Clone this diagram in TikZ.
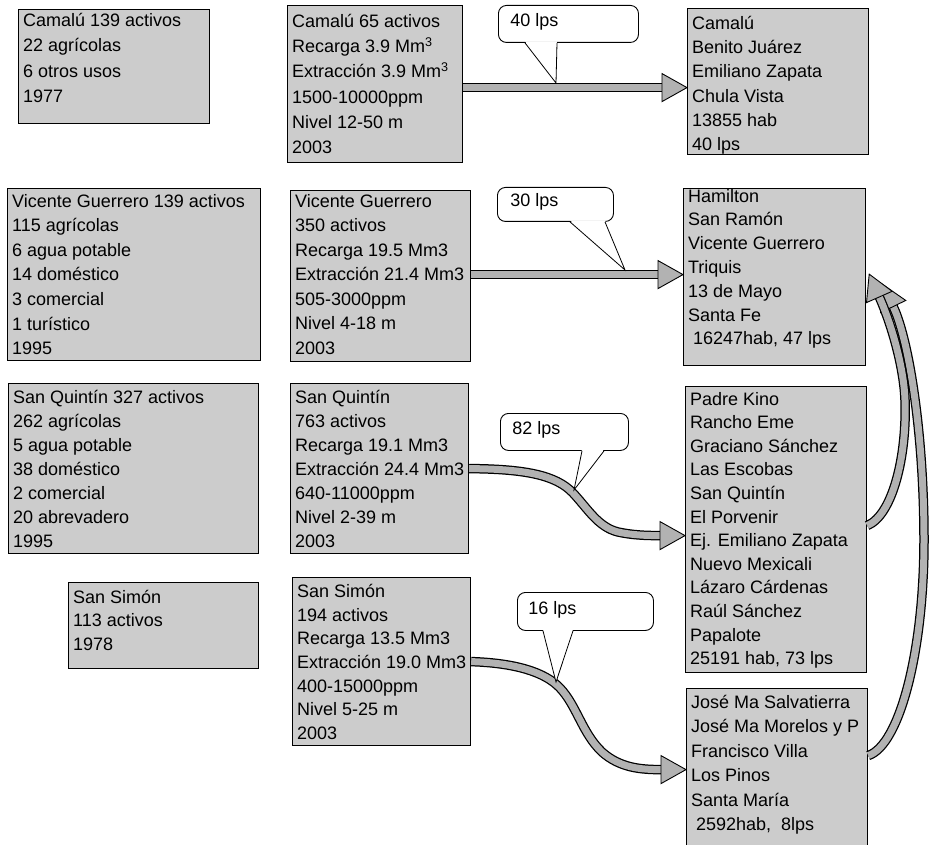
\documentclass[tikz,border=0pt]{standalone}
\usepackage{fontspec}
\setmainfont{Liberation Sans}
\usetikzlibrary{calc}
\definecolor{boxgray}{gray}{0.80}
\definecolor{arrgray}{gray}{0.70}
\tikzset{
  gbox/.style={draw=black, line width=1.2pt, fill=boxgray, inner sep=0pt, anchor=north west},
  callbox/.style={draw=black, line width=0.9pt, fill=white, rounded corners=8pt, inner sep=0pt, anchor=north west},
  shaft/.style={draw=arrgray, line width=7pt, preaction={draw=black, line width=9.5pt}},
  headst/.style={draw=black, fill=arrgray, line width=0.9pt, line join=miter},
  ptr/.style={draw=black, line width=0.8pt},
}
\newcommand{\gbox}[8]{%
  \node[gbox] (#1) at (#2,#3) {\parbox[c][#5pt][t]{#4pt}{\fontsize{18}{#7pt}\selectfont\raggedright\leftskip=4.5pt\vspace*{#6pt}\rule{0pt}{13pt}#8}};}
\newcommand{\gcall}[8]{%
  \node[callbox] (#1) at (#2,#3) {\parbox[c][#5pt][t]{#4pt}{\fontsize{18}{22pt}\selectfont\vspace*{#6pt}\hspace*{#7pt}\rule{0pt}{13pt}#8}};}
\newcommand{\bhead}[2]{\filldraw[headst] ($(#1)!14pt!90:(#2)$) -- (#2) -- ($(#1)!14pt!-90:(#2)$) -- cycle;}
\newcommand{\pointer}[4]{%
  \fill[white] ($(#1.south west)+(#2,-1.6)$) -- (#4) -- ($(#1.south west)+(#3,-1.6)$) -- cycle;
  \draw[ptr] ($(#1.south west)+(#2,0)$) -- (#4) -- ($(#1.south west)+(#3,0)$);}
\begin{document}
\begin{tikzpicture}[x=1pt,y=-1pt]
\useasboundingbox (0,0) rectangle (929,845);
% column A
\gbox{a1}{18}{9}{191}{114}{3.5}{25.5}{Camalú 139 activos\\22 agrícolas\\6 otros usos\\1977}
\gbox{a2}{7}{188}{253}{172}{5.5}{24.6}{Vicente Guerrero 139 activos\\115 agrícolas\\6 agua potable\\14 doméstico\\3 comercial\\1 turístico\\1995}
\gbox{a3}{8}{383}{250}{170}{6.5}{24}{San Quintín 327 activos\\262 agrícolas\\5 agua potable\\38 doméstico\\2 comercial\\20 abrevadero\\1995}
\gbox{a4}{68}{582}{190}{86}{7.5}{23.5}{San Simón\\113 activos\\1978}
% column B
\gbox{b1}{287}{5}{175}{157}{8.5}{25.3}{Camalú 65 activos\\Recarga 3.9 Mm\textsuperscript{3}\\Extracción 3.9 Mm\textsuperscript{3}\\1500-10000ppm\\Nivel 12-50 m\\2003}
\gbox{b2}{290}{190}{180}{171}{3.5}{24.5}{Vicente Guerrero\\350 activos\\Recarga 19.5 Mm3\\Extracción 21.4 Mm3\\505-3000ppm\\Nivel 4-18 m\\2003}
\gbox{b3}{290}{383}{178}{170}{6.5}{24}{San Quintín\\763 activos\\Recarga 19.1 Mm3\\Extracción 24.4 Mm3\\640-11000ppm\\Nivel 2-39 m\\2003}
\gbox{b4}{292}{577}{178}{168}{6.5}{23.7}{San Simón\\194 activos\\Recarga 13.5 Mm3\\Extracción 19.0 Mm3\\400-15000ppm\\Nivel 5-25 m\\2003}
% column C
\gbox{c1}{687}{8}{181}{146}{7.5}{24.3}{Camalú\\Benito Juárez\\Emiliano Zapata\\Chula Vista\\13855 hab\\40 lps}
\gbox{c2}{683}{188}{182}{177}{0.5}{23.8}{Hamilton\\San Ramón\\Vicente Guerrero\\Triquis\\13 de Mayo\\Santa Fe\\\hspace*{5pt}16247hab, 47 lps}
\gbox{c3}{685}{386}{181}{286}{5.5}{23.6}{Padre Kino\\Rancho Eme\\Graciano Sánchez\\Las Escobas\\San Quintín\\El Porvenir\\Ej. Emiliano Zapata\\Nuevo Mexicali\\Lázaro Cárdenas\\Raúl Sánchez\\Papalote\\25191 hab, 73 lps}
\gbox{c4}{686}{688}{181}{162}{6.5}{24.5}{José Ma Salvatierra\\José Ma Morelos y P\\Francisco Villa\\Los Pinos\\Santa María\\\hspace*{5pt}2592hab,\ \ 8lps}
% arrow 1
\coordinate (t1) at ($(c1.west)+(0,6)$);
\coordinate (s1) at (b1.east |- t1);
\coordinate (h1) at ($(t1)+(-25,0)$);
\draw[shaft] (s1) -- (h1);
\bhead{h1}{t1}
% arrow 2
\coordinate (t2) at ($(c2.west)+(0,-2.5)$);
\coordinate (s2) at (b2.east |- t2);
\coordinate (h2) at ($(t2)+(-25,0)$);
\draw[shaft] (s2) -- (h2);
\bhead{h2}{t2}
% arrow 3
\coordinate (t3) at ($(c3.west)+(0,6)$);
\coordinate (h3) at ($(t3)+(-25,0)$);
\coordinate (k3) at ($(h3)+(-15,0)$);
\draw[shaft] (b3.east) .. controls (525,469) and (556,475) .. (573,493) .. controls (588,509) and (598,527) .. (618,532) .. controls (632,535) and (k3) .. (h3);
\bhead{h3}{t3}
% arrow 4
\coordinate (t4) at (c4.west);
\coordinate (h4) at ($(t4)+(-25,0)$);
\coordinate (k4) at ($(h4)+(-20,0)$);
\draw[shaft] (b4.east) .. controls (515,663) and (545,672) .. (560,688) .. controls (577,706) and (582,733) .. (602,752) .. controls (620,768) and (k4) .. (h4);
\bhead{h4}{t4}
% arrow 6 (outer)
\coordinate (t6) at ($(c2.east)+(16,7)$);
\coordinate (k6) at (908,337);
\coordinate (h6) at ($(t6)!25pt!(k6)$);
\coordinate (s6) at ($(c4.east)+(0,-14)$);
\draw[shaft] (s6) .. controls (900,745) and (924,650) .. (924,540) .. controls (924,430) and (k6) .. (h6);
\bhead{h6}{t6}
% arrow 5 (inner)
\coordinate (t5) at ($(c2.east)+(3,-3)$);
\coordinate (k5) at (893,328);
\coordinate (h5) at ($(t5)!25pt!(k5)$);
\coordinate (s5) at ($(c3.east)+(0,-4)$);
\draw[shaft] (s5) .. controls (893,515) and (907,455) .. (905,400) .. controls (904,370) and (k5) .. (h5);
\bhead{h5}{t5}
% callouts
\gcall{cl1}{498}{5}{140}{37}{8.5}{12}{40 lps}
\coordinate (p1) at (556,83);
\pointer{cl1}{27}{59}{p1}
\gcall{cl2}{497}{187}{116}{34}{6.5}{13}{30 lps}
\coordinate (p2) at (625,270);
\pointer{cl2}{73}{108}{p2}
\gcall{cl3}{500}{413}{128}{37}{8.5}{12}{82 lps}
\coordinate (p3) at (574,490);
\pointer{cl3}{82}{104}{p3}
\gcall{cl4}{517}{592}{136}{38}{9.5}{11}{16 lps}
\coordinate (p4) at (556,682);
\pointer{cl4}{26}{56}{p4}
\end{tikzpicture}
\end{document}
